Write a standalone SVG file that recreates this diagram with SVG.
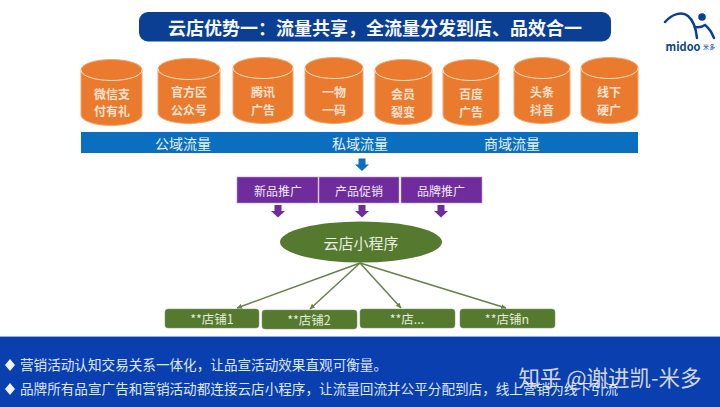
<svg xmlns="http://www.w3.org/2000/svg" width="720" height="407" viewBox="0 0 720 407">
<style>
text{font-family:"Noto Sans CJK SC","Liberation Sans",sans-serif;text-anchor:middle;dominant-baseline:central}
.cyl{fill:#ea7a2e;stroke:#f3a66e;stroke-width:1}
.rim{fill:none;stroke:#fbe3c8;stroke-width:1}
.ct{font-size:12px;font-weight:700;fill:#fbe2d0}
.bar{font-size:14px;fill:#e8f2fa}
.pur{fill:#6f2c9c;stroke:#b79ad0;stroke-width:.6}
.pt{font-size:12px;fill:#f0e8f6}
.st{fill:#55792f;stroke:#7d9a5f;stroke-width:.5}
.stt{font-size:12.5px;fill:#e4eedb}
.lnk{stroke:#66804a;stroke-width:1.5;fill:none;marker-end:url(#tip)}
.bt{font-size:13.6px;fill:#dfe8fa;text-anchor:start}
</style>
<defs>
<marker id="tip" markerUnits="userSpaceOnUse" markerWidth="6" markerHeight="6" refX="5" refY="3" orient="auto"><path d="M0 0.500L5.500 3L0 5.500Z" fill="#66804a"/></marker>
<path id="dn" d="M-3.500 -6H3.500V0H7L0 6.500L-7 0H-3.500Z"/>
</defs>
<rect width="720" height="407" fill="#fff"/>
<g id="title"><rect x="139" y="12" width="472" height="29.500" rx="9" fill="#0b3f94"/><text x="375" y="27" font-size="18" font-weight="700" fill="#f4f7fc">云店优势一：流量共享，全流量分发到店、品效合一</text></g>
<g id="logo">
<path d="M665 22C672 14 682 11 688 16C693 20 696 29 697 38" fill="none" stroke="#0b3f94" stroke-width="2.500" stroke-linecap="round"/>
<path d="M695 27C699 28 702 27 705 25C709 28 712 33 714 38" fill="none" stroke="#0b3f94" stroke-width="2.500" stroke-linecap="round"/>
<circle cx="702" cy="17" r="3.800" fill="#0b3f94"/>
<text x="683" y="46" font-size="11" font-weight="700" fill="#0b3f94" font-family="Liberation Sans">midoo</text>
<text x="709" y="46" font-size="6" fill="#0b3f94">米多</text>
</g>
<g id="cyl1"><path class="cyl" d="M81 70A30.500 10.500 0 0 1 142 70V115A30.500 10.500 0 0 1 81 115Z"/><path class="rim" d="M81 70A30.500 10.500 0 0 0 142 70"/><text class="ct" x="112" y="93">微信支</text><text class="ct" x="112" y="110">付有礼</text></g>
<g id="cyl2"><path class="cyl" d="M158 69A31 10.500 0 0 1 220 69V113A31 10.500 0 0 1 158 113Z"/><path class="rim" d="M158 69A31 10.500 0 0 0 220 69"/><text class="ct" x="189" y="91">官方区</text><text class="ct" x="189" y="109">公众号</text></g>
<g id="cyl3"><path class="cyl" d="M233 68A30 10.500 0 0 1 293 68V113A30 10.500 0 0 1 233 113Z"/><path class="rim" d="M233 68A30 10.500 0 0 0 293 68"/><text class="ct" x="263" y="91">腾讯</text><text class="ct" x="263" y="109">广告</text></g>
<g id="cyl4"><path class="cyl" d="M305 68A29 10.500 0 0 1 363 68V113A29 10.500 0 0 1 305 113Z"/><path class="rim" d="M305 68A29 10.500 0 0 0 363 68"/><text class="ct" x="334" y="91">一物</text><text class="ct" x="334" y="109">一码</text></g>
<g id="cyl5"><path class="cyl" d="M375 70A28.500 10.500 0 0 1 432 70V114A28.500 10.500 0 0 1 375 114Z"/><path class="rim" d="M375 70A28.500 10.500 0 0 0 432 70"/><text class="ct" x="403" y="93">会员</text><text class="ct" x="403" y="111">裂变</text></g>
<g id="cyl6"><path class="cyl" d="M443 70A28 10.500 0 0 1 499 70V115A28 10.500 0 0 1 443 115Z"/><path class="rim" d="M443 70A28 10.500 0 0 0 499 70"/><text class="ct" x="471" y="93">百度</text><text class="ct" x="471" y="111">广告</text></g>
<g id="cyl7"><path class="cyl" d="M514 68A28 10.500 0 0 1 570 68V113A28 10.500 0 0 1 514 113Z"/><path class="rim" d="M514 68A28 10.500 0 0 0 570 68"/><text class="ct" x="542" y="91">头条</text><text class="ct" x="542" y="109">抖音</text></g>
<g id="cyl8"><path class="cyl" d="M581 68A28.500 10.500 0 0 1 638 68V113A28.500 10.500 0 0 1 581 113Z"/><path class="rim" d="M581 68A28.500 10.500 0 0 0 638 68"/><text class="ct" x="609" y="91">线下</text><text class="ct" x="609" y="109">硬广</text></g>
<g id="traffic-bar"><rect x="81" y="132" width="557" height="21" fill="#0b6fc0"/><text class="bar" x="183" y="143">公域流量</text><text class="bar" x="360" y="143">私域流量</text><text class="bar" x="512" y="143">商域流量</text></g>
<g id="connectors">
<use href="#dn" x="362" y="164.500" fill="#0b6fc0"/>
<use href="#dn" x="278" y="211" fill="#6f2c9c"/>
<use href="#dn" x="362" y="211" fill="#6f2c9c"/>
<use href="#dn" x="441" y="211" fill="#6f2c9c"/>
<path class="lnk" d="M360 263L237 308"/>
<path class="lnk" d="M360 263L310 309"/>
<path class="lnk" d="M360 263L401 308"/>
<path class="lnk" d="M360 263L506 308"/>
</g>
<g id="promo1"><rect class="pur" x="237" y="177" width="81" height="26"/><text class="pt" x="278" y="190">新品推广</text></g>
<g id="promo2"><rect class="pur" x="319" y="177" width="80" height="26"/><text class="pt" x="359" y="190">产品促销</text></g>
<g id="promo3"><rect class="pur" x="401" y="177" width="81" height="26"/><text class="pt" x="441" y="190">品牌推广</text></g>
<g id="miniapp"><ellipse cx="361" cy="242" rx="81" ry="20.500" fill="#55792f"/><text x="361" y="242" font-size="15" fill="#e8f0e0">云店小程序</text></g>
<g id="store1"><rect class="st" x="165" y="309" width="94" height="19" rx="3"/><text class="stt" x="212" y="318.500">**店铺1</text></g>
<g id="store2"><rect class="st" x="262" y="310" width="95" height="19" rx="3"/><text class="stt" x="309" y="319.500">**店铺2</text></g>
<g id="store3"><rect class="st" x="360" y="309" width="95" height="19" rx="3"/><text class="stt" x="407" y="318.500">**店...</text></g>
<g id="store4"><rect class="st" x="460" y="309" width="95" height="19" rx="3"/><text class="stt" x="507" y="318.500">**店铺n</text></g>
<g id="footer"><rect x="0" y="337" width="720" height="70" fill="#0a3fb0"/>
<rect x="0" y="336" width="720" height="1" fill="#8fb0d8"/>
<path d="M10 359L15 365L10 371L5 365Z M10 383L15 389L10 395L5 389Z" fill="#eef3fc"/>
<text class="bt" x="20" y="364">营销活动认知交易关系一体化，让品宣活动效果直观可衡量。</text>
<text class="bt" x="20" y="388">品牌所有品宣广告和营销活动都连接云店小程序，让流量回流并公平分配到店，线上营销为线下引流</text>
<text x="610" y="376" font-size="21.500" fill="#e6e6e6" fill-opacity=".92">知乎 @谢进凯-米多</text></g>
</svg>
